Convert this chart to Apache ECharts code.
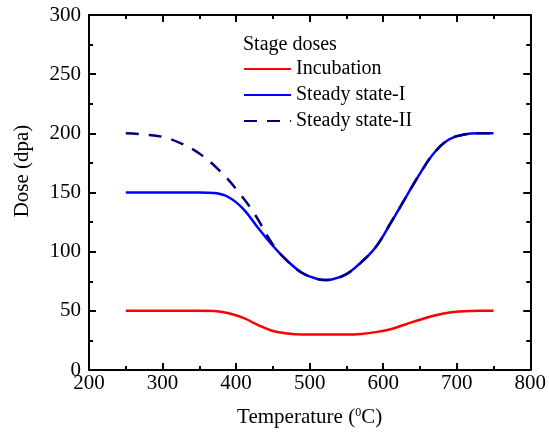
<!DOCTYPE html>
<html>
<head>
<meta charset="utf-8">
<script src="https://cdn.jsdelivr.net/npm/echarts@6/dist/echarts.min.js"></script>
<style>html,body{margin:0;padding:0;background:#fff}#c{width:549px;height:433px}</style>
</head>
<body>
<div id="c"></div>
<script>
const xTicks = [200, 300, 400, 500, 600, 700, 800];
const yTicks = [0, 50, 100, 150, 200, 250, 300];

const incT = [250, 300, 350, 370, 390, 410, 430, 450, 470, 490, 520, 550, 570, 590, 610, 630, 650, 670, 690, 710, 730, 750];
const incV = [50, 50, 50, 49.8, 48, 44, 38, 33, 30.8, 30, 30, 30, 30.5, 32, 34.5, 38.5, 42.5, 46, 48.5, 49.7, 50, 50];

const ss1T = [250, 300, 350, 370, 390, 410, 430, 450, 470, 490, 510, 520, 530, 550, 570, 590, 610, 630, 650, 670, 690, 710, 730, 750];
const ss1V = [150, 150, 150, 149.5, 146, 136, 120, 105, 92, 82, 77, 76, 76.5, 81, 91, 104, 124, 145, 166, 184, 195, 199, 200, 200];

const ss2T = [250, 275, 300, 325, 350, 375, 400, 425, 450, 470, 490, 510, 520, 530, 550, 570, 590, 610, 630, 650, 670, 690, 710, 730, 750];
const ss2V = [200, 199, 197, 191.5, 183, 170, 153, 132, 106, 92, 82, 77, 76, 76.5, 81, 91, 104, 124, 145, 166, 184, 195, 199, 200, 200];

const pairs = (t, v) => t.map((x, i) => [x, v[i]]);
const FONT = 'Liberation Serif';

const chart = echarts.init(document.getElementById('c'), null, {renderer: 'canvas'});
const axisCommon = {
  axisLine: {show: true, onZero: false, lineStyle: {color: '#000', width: 2}},
  axisTick: {show: true, inside: true, length: 7, lineStyle: {color: '#000', width: 2}},
  minorTick: {show: true, splitNumber: 2, length: 4, lineStyle: {color: '#000', width: 2}},
  splitLine: {show: false}
};
chart.setOption({
  animation: false,
  grid: {left: 89, right: 15, top: 15, bottom: 62},
  title: {text: 'Stage doses', left: 243, top: 35, padding: 0, textStyle: {fontFamily: FONT, fontSize: 20, fontWeight: 'normal', color: '#000'}},
  legend: {
    orient: 'vertical', left: 243, top: 59, padding: 0, itemWidth: 47, itemHeight: 14, itemGap: 6,
    itemStyle: {opacity: 0},
    textStyle: {fontFamily: FONT, fontSize: 20, color: '#000', lineHeight: 20},
    data: ['Incubation', 'Steady state-I', 'Steady state-II']
  },
  graphic: [{
    type: 'text', x: 22, y: 171, rotation: Math.PI / 2,
    style: {text: 'Dose (dpa)', fontFamily: FONT, fontSize: 21, fill: '#000', textAlign: 'center', textVerticalAlign: 'middle'}
  }],
  xAxis: [
    Object.assign({
      type: 'value', min: xTicks[0], max: xTicks[xTicks.length - 1], interval: 100, position: 'bottom',
      name: 'Temperature ({sup|0}C)', nameLocation: 'middle', nameGap: 37,
      nameTextStyle: {fontFamily: FONT, fontSize: 21, color: '#000', rich: {sup: {fontFamily: FONT, fontSize: 12, verticalAlign: 'top', padding: [0, 0, 9, 0]}}},
      axisLabel: {fontFamily: FONT, fontSize: 21, color: '#000', margin: 3}
    }, axisCommon),
    Object.assign({
      type: 'value', min: xTicks[0], max: xTicks[xTicks.length - 1], interval: 100, position: 'top',
      axisLabel: {show: false}
    }, axisCommon)
  ],
  yAxis: [
    Object.assign({
      type: 'value', min: yTicks[0], max: yTicks[yTicks.length - 1], interval: 50, position: 'left',
      axisLabel: {fontFamily: FONT, fontSize: 21, color: '#000', margin: 8}
    }, axisCommon),
    Object.assign({
      type: 'value', min: yTicks[0], max: yTicks[yTicks.length - 1], interval: 50, position: 'right',
      axisLabel: {show: false}
    }, axisCommon)
  ],
  series: [
    {name: 'Incubation', type: 'line', smooth: 0.4, symbol: 'none', data: pairs(incT, incV),
     lineStyle: {color: '#ff0000', width: 2.5}, itemStyle: {color: '#ff0000'}},
    {name: 'Steady state-I', type: 'line', smooth: 0.4, symbol: 'none', data: pairs(ss1T, ss1V),
     lineStyle: {color: '#0000ff', width: 2.5}, itemStyle: {color: '#0000ff'}},
    {name: 'Steady state-II', type: 'line', smooth: 0.4, symbol: 'none', data: pairs(ss2T, ss2V),
     lineStyle: {color: '#000080', width: 2.5, type: [13, 10]}, itemStyle: {color: '#000080'}}
  ]
});
</script>
</body>
</html>
